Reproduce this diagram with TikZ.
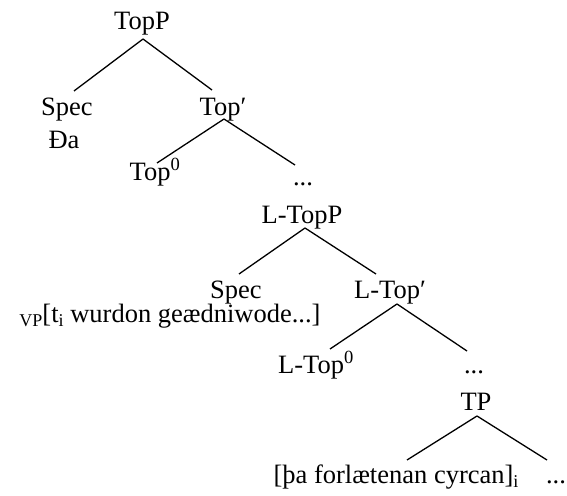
\documentclass[tikz,border=0pt]{standalone}
\usepackage{fontspec}
\setmainfont{Liberation Serif}
\usetikzlibrary{calc}
\newcommand\lowsub[1]{\raisebox{-4pt}{\fontsize{18}{20}\selectfont #1}}
\begin{document}
\begin{tikzpicture}[x=1pt,y=-1pt,
  lbl/.style={anchor=base,inner sep=0pt,font=\fontsize{26.5}{30}\selectfont},
  branch/.style={line width=1.3pt}]
\useasboundingbox (0,0) rectangle (567,495);
% labels
\node[lbl] (topp) at (142,30) {TopP};
\node[lbl] (spec1) at (67,115) {Spec};
\node[lbl] (da) at (64,148) {Đa};
\node[lbl] (topbar) at (223,115) {Top′};
\node[lbl] (topzero) at (155,180) {Top\textsuperscript{0}};
\node[lbl] (dots1) at (303,185) {...};
\node[lbl] (ltopp) at (302,223) {L-TopP};
\node[lbl] (spec2) at (236,298) {Spec};
\node[lbl] (ltopbar) at (390,298) {L-Top′};
\node[lbl] (vp) at (170,322) {\lowsub{VP}[t\lowsub{i} wurdon geædniwode...]};
\node[lbl] (ltopzero) at (316,373) {L-Top\textsuperscript{0}};
\node[lbl] (dots2) at (474,373) {...};
\node[lbl] (tp) at (476,410) {TP};
\node[lbl] (pa) at (396,483) {[þa forlætenan cyrcan]\lowsub{i}};
\node[lbl] (dots3) at (556,483) {...};
% branches
\draw[branch] ($(topp.base)+(1,9)$) -- ($(spec1.base)+(7,-24)$);
\draw[branch] ($(topp.base)+(1,9)$) -- ($(topbar.base)+(-11,-25)$);
\draw[branch] ($(topbar.base)+(1,4)$) -- ($(topzero.base)+(2,-17)$);
\draw[branch] ($(topbar.base)+(1,4)$) -- ($(dots1.base)+(-8,-20)$);
\draw[branch] ($(ltopp.base)+(3,5)$) -- ($(spec2.base)+(3,-24)$);
\draw[branch] ($(ltopp.base)+(3,5)$) -- ($(ltopbar.base)+(-14,-24)$);
\draw[branch] ($(ltopbar.base)+(7,6)$) -- ($(ltopzero.base)+(14,-24)$);
\draw[branch] ($(ltopbar.base)+(7,6)$) -- ($(dots2.base)+(-7,-22)$);
\draw[branch] ($(tp.base)+(1,6)$) -- ($(pa.base)+(11,-23)$);
\draw[branch] ($(tp.base)+(1,6)$) -- ($(dots3.base)+(-9,-23)$);
\end{tikzpicture}
\end{document}
